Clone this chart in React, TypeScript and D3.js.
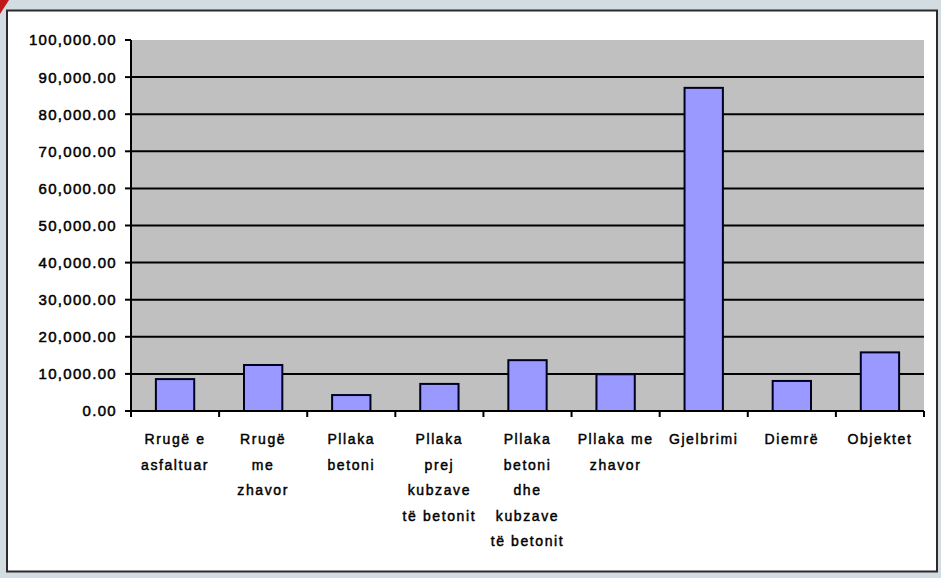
import React, { useEffect } from 'react'
import * as d3 from 'd3'

// category labels, already split into lines as in the picture
const categories: string[][] = [
  ['Rrugë e', 'asfaltuar'],
  ['Rrugë', 'me', 'zhavor'],
  ['Pllaka', 'betoni'],
  ['Pllaka', 'prej', 'kubzave', 'të betonit'],
  ['Pllaka', 'betoni', 'dhe', 'kubzave', 'të betonit'],
  ['Pllaka me', 'zhavor'],
  ['Gjelbrimi'],
  ['Diemrë'],
  ['Objektet'],
]

const values = [8600, 12400, 4300, 7300, 13700, 9900, 87100, 8100, 15800]

const yTicks = [0, 10000, 20000, 30000, 40000, 50000, 60000, 70000, 80000, 90000, 100000]

const W = 941
const H = 578

export default function App() {
  useEffect(() => {
    document.body.style.margin = '0'
  }, [])

  const plot = { left: 131, right: 924, top: 40, bottom: 411 }

  const y = d3.scaleLinear().domain([0, 100000]).range([plot.bottom, plot.top])
  const keys = categories.map((_, i) => String(i))
  const x = d3.scaleBand().domain(keys).range([plot.left, plot.right]).paddingInner(0.565).paddingOuter(0.2825)
  const cat = d3.scaleBand().domain(keys).range([plot.left, plot.right])

  const fmt = d3.format(',.2f')
  const font = '"Liberation Sans", Arial, sans-serif'

  return (
    <svg width={W} height={H} style={{ display: 'block' }}>
      <rect x={0} y={0} width={W} height={H} fill="#d3dce1" />
      <path d="M0,0 L9,0 L0,14 Z" fill="#c0191a" />
      <rect x={7} y={10.5} width={930} height={561} fill="#ffffff" stroke="#2b2b2b" strokeWidth={2} />

      {/* plot area */}
      <rect x={plot.left} y={plot.top} width={plot.right - plot.left} height={plot.bottom - plot.top} fill="#c0c0c0" />

      {/* gridlines */}
      {yTicks.filter(t => t > 0 && t < 100000).map(t => (
        <line key={'g' + t} x1={plot.left} x2={plot.right} y1={y(t)} y2={y(t)} stroke="#000" strokeWidth={2} />
      ))}

      {/* bars */}
      {values.map((v, i) => (
        <rect
          key={'b' + i}
          x={x(String(i))!}
          y={y(v)}
          width={x.bandwidth()}
          height={y(0) - y(v)}
          fill="#9999ff"
          stroke="#000022"
          strokeWidth={2}
        />
      ))}

      {/* y axis */}
      <line x1={plot.left} x2={plot.left} y1={plot.top} y2={plot.bottom} stroke="#000" strokeWidth={2} />
      {yTicks.map(t => (
        <g key={'t' + t}>
          <line x1={plot.left - 6} x2={plot.left} y1={y(t)} y2={y(t)} stroke="#000" strokeWidth={2} />
          <text
            x={117}
            y={y(t)}
            dy="0.36em"
            textAnchor="end"
            fontFamily={font}
            fontSize={15}
            letterSpacing={1.3}
            stroke="#000"
            strokeWidth={0.5}
            fill="#000"
          >
            {fmt(t)}
          </text>
        </g>
      ))}

      {/* x axis */}
      <line x1={plot.left - 6} x2={plot.right} y1={plot.bottom} y2={plot.bottom} stroke="#000" strokeWidth={2} />
      {[...keys.map(k => cat(k)!), plot.right].map((px, i) => (
        <line key={'xt' + i} x1={px} x2={px} y1={plot.bottom} y2={plot.bottom + 6} stroke="#000" strokeWidth={2} />
      ))}
      {categories.map((lines, i) => {
        const cx = cat(String(i))! + cat.bandwidth() / 2
        return (
          <text
            key={'c' + i}
            textAnchor="middle"
            fontFamily={font}
            fontSize={14}
            letterSpacing={1.6}
            stroke="#000"
            strokeWidth={0.45}
            fill="#000"
          >
            {lines.map((ln, j) => (
              <tspan key={j} x={cx} y={439 + j * 25.5} dy="0.36em">
                {ln}
              </tspan>
            ))}
          </text>
        )
      })}
    </svg>
  )
}
